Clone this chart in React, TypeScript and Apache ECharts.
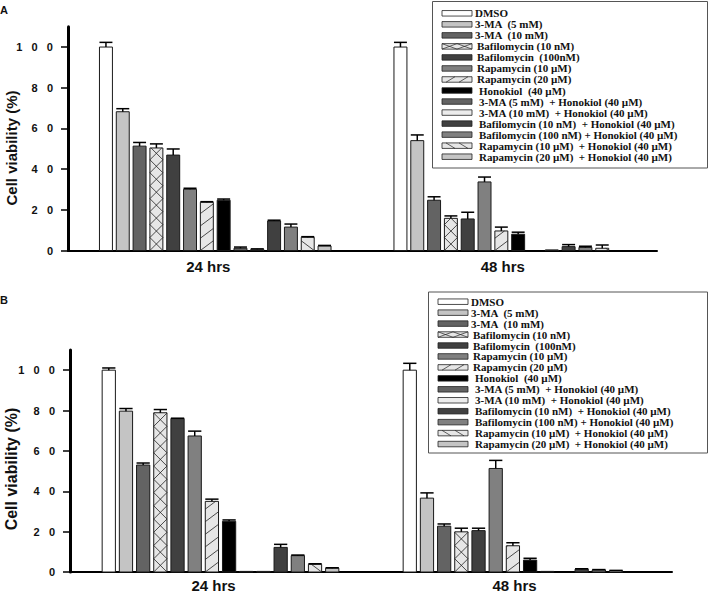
import React, { useEffect, useRef } from 'react';
import * as echarts from 'echarts';

const categories = ['24 hrs', '48 hrs'];

const treatments = [
  'DMSO',
  '3-MA  (5 mM)',
  '3-MA  (10 mM)',
  'Bafilomycin (10 nM)',
  'Bafilomycin  (100nM)',
  'Rapamycin (10 µM)',
  'Rapamycin (20 µM)',
  'Honokiol  (40 µM)',
  '3-MA (5 mM)  + Honokiol (40 µM)',
  '3-MA (10 mM)  + Honokiol (40 µM)',
  'Bafilomycin (10 nM)  + Honokiol (40 µM)',
  'Bafilomycin (100 nM) + Honokiol (40 µM)',
  'Rapamycin (10 µM)  + Honokiol (40 µM)',
  'Rapamycin (20 µM)  + Honokiol (40 µM)',
];

// Panel A
const a24 = [100, 68.2, 51.3, 50.4, 46.9, 30.1, 23.7, 24.7, 1.1, 0.6, 14.5, 11.5, 6.5, 2.2];
const a24Err = [2.3, 1.5, 1.8, 2.0, 3.0, 0.5, 0.3, 0.6, 0.6, 0.2, 0.4, 1.5, 0.3, 0.3];
const a48 = [100, 54.0, 24.7, 15.8, 15.5, 33.7, 9.6, 8.0, 0, 0.3, 1.9, 1.5, 1.1, 0];
const a48Err = [2.3, 2.8, 1.7, 1.2, 3.3, 2.4, 1.9, 1.0, 0, 0, 1.0, 0.6, 1.6, 0];

// Panel B
const b24 = [100, 79.7, 53.0, 78.9, 76.0, 67.4, 35.0, 25.1, 0.3, 0.3, 12.2, 8.1, 3.8, 1.9];
const b24Err = [1.1, 1.3, 1.0, 1.6, 0.2, 2.4, 1.1, 0.7, 0, 0, 1.5, 0.3, 0.3, 0.2];
const b48 = [100, 36.6, 22.7, 19.9, 20.5, 51.3, 13.0, 5.9, 0.3, 0, 1.4, 1.0, 0.6, 0];
const b48Err = [3.4, 2.6, 1.1, 1.8, 1.2, 4.0, 1.5, 0.9, 0, 0, 0.2, 0.2, 0.2, 0];

const yTicks = [0, 20, 40, 60, 80, 100];

const fills = ['#ffffff', '#c4c4c4', '#636363', '#e6e6e6', '#404040', '#808080', '#e6e6e6', '#000000', '#636363', '#ececec', '#404040', '#808080', '#e6e6e6', '#c4c4c4'];
const patterns = ['', '', '', 'x', '', '', '/', '', '', '', '', '', '\\', ''];

function clipSeg(xa: number, ya: number, xb: number, yb: number, ymin: number, ymax: number) {
  let t0 = 0, t1 = 1;
  const dy = yb - ya;
  const check = (p: number, q: number) => {
    if (p === 0) return q >= 0;
    const r = q / p;
    if (p < 0) { if (r > t1) return false; if (r > t0) t0 = r; }
    else { if (r < t0) return false; if (r < t1) t1 = r; }
    return true;
  };
  if (!check(-dy, ya - ymin)) return null;
  if (!check(dy, ymax - ya)) return null;
  return { x1: xa + (xb - xa) * t0, y1: ya + dy * t0, x2: xa + (xb - xa) * t1, y2: ya + dy * t1 };
}

function patternLines(kind: string, x0: number, x1: number, yt: number, yb: number, cell: number) {
  const out: any[] = [];
  if (kind === 'x') {
    const h = cell;
    for (let k = 0; yb - k * h > yt - 0.01; k++) {
      const bot = yb - k * h, top = yb - (k + 1) * h;
      const s1 = clipSeg(x0, bot, x1, top, yt, yb);
      const s2 = clipSeg(x1, bot, x0, top, yt, yb);
      if (s1) out.push(s1);
      if (s2) out.push(s2);
    }
  } else if (kind === '/' || kind === '\\') {
    const p = cell * 0.95;
    const d = cell * 0.75;
    for (let k = 0; yb - k * p > yt; k++) {
      const yBase = yb - k * p;
      const s = kind === '/'
        ? clipSeg(x0, yBase, x1, yBase - d, yt, yb)
        : clipSeg(x0, yBase - d, x1, yBase, yt, yb);
      if (s) out.push(s);
    }
  }
  return out.map((shape) => ({ type: 'line', shape, style: { stroke: '#222', lineWidth: 0.8 } }));
}

const STEP_FRAC = 0.0571;
const WIDTH_FRAC = 0.044;

function makeRender(i: number) {
  return (params: any, api: any) => {
    const cat = api.value(0);
    const val = api.value(1);
    const err = api.value(2);
    const base = api.coord([cat, 0]);
    const top = api.coord([cat, val]);
    const band = api.size([1, 0])[0];
    const step = band * STEP_FRAC;
    const w = band * WIDTH_FRAC;
    const cx = base[0] + (i - 6.5) * step;
    const x0 = cx - w / 2;
    const x1 = cx + w / 2;
    const yb = base[1];
    const yt = top[1];
    const children: any[] = [];
    if (val > 0) {
      children.push({
        type: 'rect',
        shape: { x: x0, y: yt, width: w, height: yb - yt },
        style: { fill: fills[i], stroke: '#1a1a1a', lineWidth: 1 },
      });
      if (patterns[i]) children.push(...patternLines(patterns[i], x0, x1, yt, yb, w));
    }
    if (err > 0) {
      const ye = api.coord([cat, val + err])[1];
      children.push({ type: 'line', shape: { x1: cx, y1: yt, x2: cx, y2: ye }, style: { stroke: '#000', lineWidth: 1.5 } });
      children.push({ type: 'line', shape: { x1: x0, y1: ye, x2: x1, y2: ye }, style: { stroke: '#000', lineWidth: 1.5 } });
    }
    return { type: 'group', children };
  };
}

function legendGraphic(box: { x: number; y: number; w: number; h: number }, row0: number, rowGap: number, swX: number, textX: number) {
  const children: any[] = [
    { type: 'rect', shape: { x: box.x, y: box.y, width: box.w, height: box.h }, style: { fill: '#fff', stroke: '#555', lineWidth: 1 } },
  ];
  const sw = 30, sh = 5.5;
  treatments.forEach((name, i) => {
    const cy = row0 + i * rowGap;
    const y0 = cy - sh / 2;
    children.push({ type: 'rect', shape: { x: swX, y: y0, width: sw, height: sh }, style: { fill: fills[i], stroke: '#222', lineWidth: 0.8 } });
    const kind = patterns[i];
    if (kind === 'x') {
      for (let k = 0; k < 2; k++) {
        const xa = swX + k * 15, xb = xa + 15;
        children.push({ type: 'line', shape: { x1: xa, y1: y0, x2: xb, y2: y0 + sh }, style: { stroke: '#222', lineWidth: 0.7 } });
        children.push({ type: 'line', shape: { x1: xa, y1: y0 + sh, x2: xb, y2: y0 }, style: { stroke: '#222', lineWidth: 0.7 } });
      }
    } else if (kind === '/' || kind === '\\') {
      for (let k = 0; k < 2; k++) {
        const xa = swX + 4 + k * 13, xb = xa + 9;
        children.push({
          type: 'line',
          shape: kind === '/' ? { x1: xa, y1: y0 + sh, x2: xb, y2: y0 } : { x1: xa, y1: y0, x2: xb, y2: y0 + sh },
          style: { stroke: '#222', lineWidth: 0.7 },
        });
      }
    }
    children.push({
      type: 'text',
      x: textX + (i >= 3 ? 2 : 0) + (i >= 7 ? 2 : 0),
      y: cy,
      style: {
        text: name,
        fill: '#111',
        font: 'bold 11px "Liberation Serif", "Times New Roman", serif',
        textVerticalAlign: 'middle',
        textAlign: 'left',
      },
    });
  });
  return { type: 'group', z: 100, children };
}

const App: React.FC = () => {
  const ref = useRef<HTMLDivElement>(null);
  useEffect(() => {
    document.body.style.margin = '0';
    if (!ref.current) return;
    const chart = echarts.init(ref.current, undefined, { renderer: 'svg' });

    const panels = [
      { v24: a24, e24: a24Err, v48: a48, e48: a48Err },
      { v24: b24, e24: b24Err, v48: b48, e48: b48Err },
    ];

    const tickFmt = (v: number) => String(v).split('').join('\u00a0\u00a0\u00a0');

    const xAxes = [0, 1].map((g) => ({
      type: 'category',
      gridIndex: g,
      data: categories,
      boundaryGap: true,
      axisLine: { lineStyle: { color: '#000', width: 2 } },
      axisTick: { show: false },
      axisLabel: {
        color: '#111',
        fontFamily: '"Liberation Sans", Arial, sans-serif',
        fontWeight: 'bold',
        fontSize: 15,
        margin: g === 0 ? 8 : 6,
        padding: [0, 14, 0, 0],
      },
      splitLine: { show: false },
    }));

    const yAxes = [0, 1].map((g) => ({
      type: 'value',
      gridIndex: g,
      min: 0,
      max: 110,
      interval: 20,
      axisLine: { show: true, lineStyle: { color: '#000', width: 3 } },
      axisTick: { show: true, length: 7, lineStyle: { color: '#000', width: 1.5 }, customValues: yTicks },
      axisLabel: {
        color: '#111',
        fontFamily: '"Liberation Sans", Arial, sans-serif',
        fontWeight: 'bold',
        fontSize: 11,
        margin: 15,
        customValues: yTicks,
        formatter: tickFmt,
      },
      splitLine: { show: false },
    }));

    const series: any[] = [];
    panels.forEach((p, g) => {
      treatments.forEach((name, i) => {
        series.push({
          type: 'custom',
          name: name,
          xAxisIndex: g,
          yAxisIndex: g,
          coordinateSystem: 'cartesian2d',
          renderItem: makeRender(i),
          encode: { x: 0, y: 1 },
          data: [
            [0, p.v24[i], p.e24[i]],
            [1, p.v48[i], p.e48[i]],
          ],
          clip: false,
        });
      });
    });

    const option: any = {
      animation: false,
      backgroundColor: '#ffffff',
      grid: [
        { left: 68, right: 52, top: 26.7, bottom: 342.5, containLabel: false },
        { left: 70, right: 37, top: 350, bottom: 19.2, containLabel: false },
      ],
      xAxis: xAxes,
      yAxis: yAxes,
      series,
      graphic: [
        { type: 'text', x: 0, y: 4, style: { text: 'A', font: 'bold 11px "Liberation Sans", Arial, sans-serif', fill: '#111' } },
        { type: 'text', x: 0, y: 294, style: { text: 'B', font: 'bold 11px "Liberation Sans", Arial, sans-serif', fill: '#111' } },
        {
          type: 'text', x: 11, y: 148, rotation: Math.PI / 2,
          style: { text: 'Cell viability (%)', font: 'bold 15px "Liberation Sans", Arial, sans-serif', fill: '#111', textAlign: 'center', textVerticalAlign: 'middle' },
        },
        {
          type: 'text', x: 11, y: 469, rotation: Math.PI / 2,
          style: { text: 'Cell viability (%)', font: 'bold 16px "Liberation Sans", Arial, sans-serif', fill: '#111', textAlign: 'center', textVerticalAlign: 'middle' },
        },
        legendGraphic({ x: 432.5, y: 1.5, w: 275, h: 166.5 }, 13.3, 11.03, 442, 475),
        legendGraphic({ x: 428.5, y: 292, w: 279, h: 161 }, 301.7, 10.95, 438, 471),
      ],
    };
    chart.setOption(option);
    return () => chart.dispose();
  }, []);
  return <div ref={ref} style={{ width: 709, height: 593 }} />;
};

export default App;
